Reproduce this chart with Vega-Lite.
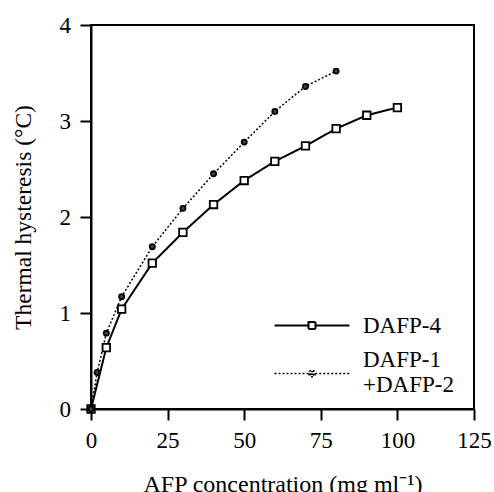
{
  "$schema": "https://vega.github.io/schema/vega-lite/v6.json",
  "width": 383,
  "height": 384,
  "autosize": "none",
  "padding": {"left": 91, "top": 25, "right": 20, "bottom": 83},
  "background": "white",
  "config": {
    "font": "Liberation Serif",
    "view": {"stroke": "black", "strokeWidth": 2},
    "axis": {
      "grid": false,
      "domainColor": "black",
      "domainWidth": 2,
      "tickColor": "black",
      "tickWidth": 2,
      "tickSize": 11,
      "labelColor": "black",
      "labelFontSize": 23,
      "labelFlush": false,
      "titleColor": "black",
      "titleFontSize": 23.5,
      "titleFontWeight": "normal"
    }
  },
  "data": {
    "values": [
      {"series": "DAFP-4", "conc": 0, "th": 0},
      {"series": "DAFP-4", "conc": 5, "th": 0.64},
      {"series": "DAFP-4", "conc": 10, "th": 1.04},
      {"series": "DAFP-4", "conc": 20, "th": 1.52},
      {"series": "DAFP-4", "conc": 30, "th": 1.84},
      {"series": "DAFP-4", "conc": 40, "th": 2.13},
      {"series": "DAFP-4", "conc": 50, "th": 2.38},
      {"series": "DAFP-4", "conc": 60, "th": 2.58},
      {"series": "DAFP-4", "conc": 70, "th": 2.74},
      {"series": "DAFP-4", "conc": 80, "th": 2.92},
      {"series": "DAFP-4", "conc": 90, "th": 3.06},
      {"series": "DAFP-4", "conc": 100, "th": 3.14},
      {"series": "DAFP-1+DAFP-2", "conc": 0, "th": 0},
      {"series": "DAFP-1+DAFP-2", "conc": 2, "th": 0.38},
      {"series": "DAFP-1+DAFP-2", "conc": 5, "th": 0.79},
      {"series": "DAFP-1+DAFP-2", "conc": 10, "th": 1.17},
      {"series": "DAFP-1+DAFP-2", "conc": 20, "th": 1.69},
      {"series": "DAFP-1+DAFP-2", "conc": 30, "th": 2.09},
      {"series": "DAFP-1+DAFP-2", "conc": 40, "th": 2.45},
      {"series": "DAFP-1+DAFP-2", "conc": 50, "th": 2.78},
      {"series": "DAFP-1+DAFP-2", "conc": 60, "th": 3.10},
      {"series": "DAFP-1+DAFP-2", "conc": 70, "th": 3.36},
      {"series": "DAFP-1+DAFP-2", "conc": 80, "th": 3.52}
    ]
  },
  "encoding": {
    "x": {
      "field": "conc",
      "type": "quantitative",
      "scale": {"domain": [0, 125], "nice": false},
      "axis": {
        "values": [0, 25, 50, 75, 100, 125],
        "labelPadding": 9,
        "title": "AFP concentration (mg ml⁻¹)",
        "titleFontSize": 24,
        "titlePadding": 20
      }
    },
    "y": {
      "field": "th",
      "type": "quantitative",
      "scale": {"domain": [0, 4], "nice": false},
      "axis": {
        "values": [0, 1, 2, 3, 4],
        "labelPadding": 9.5,
        "title": "Thermal hysteresis (°C)",
        "titlePadding": 23.5
      }
    }
  },
  "resolve": {
    "scale": {"shape": "independent", "fill": "independent", "strokeDash": "independent", "strokeWidth": "independent", "size": "independent"}
  },
  "layer": [
    {
      "mark": {"type": "line", "color": "black"},
      "encoding": {
        "strokeDash": {
          "field": "series",
          "scale": {"domain": ["DAFP-1+DAFP-2", "DAFP-4"], "range": [[2, 2], [1, 0]]},
          "legend": null
        },
        "strokeWidth": {
          "field": "series",
          "scale": {"domain": ["DAFP-1+DAFP-2", "DAFP-4"], "range": [1.5, 2]},
          "legend": null
        }
      }
    },
    {
      "mark": {"type": "point", "filled": true, "stroke": "black", "strokeWidth": 1.8, "opacity": 1},
      "encoding": {
        "fill": {
          "field": "series",
          "scale": {"domain": ["DAFP-1+DAFP-2", "DAFP-4"], "range": ["#444444", "white"]},
          "legend": null
        },
        "size": {
          "field": "series",
          "scale": {"domain": ["DAFP-1+DAFP-2", "DAFP-4"], "range": [26, 56]},
          "legend": null
        },
        "shape": {
          "field": "series",
          "scale": {"domain": ["DAFP-1+DAFP-2", "DAFP-4"], "range": ["circle", "square"]},
          "legend": null
        }
      }
    },
    {
      "mark": {"type": "point", "filled": true, "stroke": "black", "opacity": 0},
      "encoding": {
        "fill": {
          "field": "series",
          "scale": {"domain": ["DAFP-4", "DAFP-1+DAFP-2"], "range": ["white", "black"]},
          "legend": {
            "title": null,
            "orient": "none",
            "legendX": 209.5,
            "legendY": 289,
            "padding": 0,
            "symbolSize": 100,
            "symbolOpacity": 1,
            "symbolStrokeColor": "black",
            "labelOffset": 39.5,
            "labelFontSize": 23,
            "labelColor": "black",
            "rowPadding": 10,
            "labelExpr": "datum.label == 'DAFP-1+DAFP-2' ? ['DAFP-1', '+DAFP-2'] : datum.label"
          }
        },
        "shape": {
          "field": "series",
          "scale": {
            "domain": ["DAFP-4", "DAFP-1+DAFP-2"],
            "range": [
              "M-7.5,0H-0.7M0.7,0H7.5M-0.7,-0.7H0.7V0.7H-0.7Z",
              "M-7.5,2.8H-0.65M0.65,2.8H7.5M-0.65,2.8A0.65,0.65,0,1,0,0.65,2.8A0.65,0.65,0,1,0,-0.65,2.8ZM-0.4,2.8A0.4,0.4,0,1,0,0.4,2.8A0.4,0.4,0,1,0,-0.4,2.8ZM-0.15,2.8A0.15,0.15,0,1,0,0.15,2.8A0.15,0.15,0,1,0,-0.15,2.8Z"
            ]
          }
        },
        "strokeDash": {
          "field": "series",
          "scale": {"domain": ["DAFP-4", "DAFP-1+DAFP-2"], "range": [[1, 0], [2, 2]]}
        },
        "strokeWidth": {
          "field": "series",
          "scale": {"domain": ["DAFP-4", "DAFP-1+DAFP-2"], "range": [2, 1.5]}
        }
      }
    }
  ]
}
